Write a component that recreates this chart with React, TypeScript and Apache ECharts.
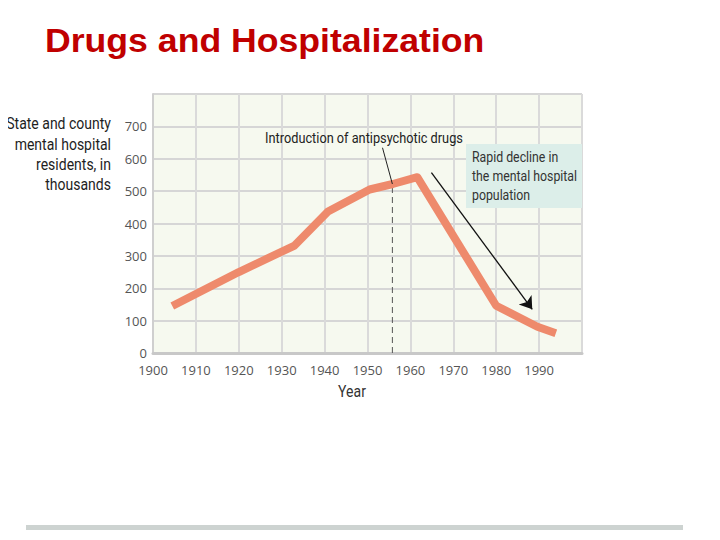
import React, { useEffect, useRef } from "react";
import * as echarts from "echarts";

const years = [1904.5, 1920, 1933, 1940.8, 1950.5, 1955.9, 1961.6, 1980, 1989.6, 1993.9];
const residents = [145, 250, 332, 437, 505, 522, 543, 146, 81, 61];

const xTicks = [1900, 1910, 1920, 1930, 1940, 1950, 1960, 1970, 1980, 1990];
const yTicks = [0, 100, 200, 300, 400, 500, 600, 700];

const drugYear = 1955.8;
const drugValue = 522;
const pointerFrom = [1953.5, 634];
const arrowFrom = [1964.9, 557];
const arrowTo = [1988.4, 135];

const titleText = "Drugs and Hospitalization";
const yLabelLines = ["State and county", "mental hospital", "residents, in", "thousands"];
const drugLabel = "Introduction of antipsychotic drugs";
const declineLines = ["Rapid decline in", "the mental hospital", "population"];

const NARROW = 'Roboto, "Noto Sans", sans-serif';
const SQUEEZE = 0.85;

function narrowText(
  text: string,
  x: number,
  y: number,
  size: number,
  align: string,
  fill: string,
  z = 11
) {
  return {
    type: "text",
    x,
    y,
    z,
    scaleX: SQUEEZE,
    style: {
      text,
      font: `${size}px ${NARROW}`,
      fill,
      textVerticalAlign: "middle",
      textAlign: align,
    },
  };
}

export default function App() {
  const ref = useRef<HTMLDivElement>(null);
  useEffect(() => {
    if (!ref.current) return;
    const chart = echarts.init(ref.current, undefined, { renderer: "svg" });
    const graphics: any[] = [
      {
        type: "text",
        x: 45,
        y: 40,
        scaleX: 1.08,
        style: {
          text: titleText,
          font: 'bold 33px "Liberation Sans", Arial, sans-serif',
          fill: "#C00000",
          textVerticalAlign: "middle",
          textAlign: "left",
        },
      },
      {
        type: "rect",
        shape: { x: 26, y: 525, width: 657, height: 5 },
        style: { fill: "#CDD3D1" },
      },
      {
        type: "rect",
        shape: { x: 466, y: 144, width: 116, height: 64 },
        style: { fill: "#DCEEE9" },
        z: 10,
      },
      ...declineLines.map((t, i) => narrowText(t, 472, 157 + i * 19, 14.5, "left", "#333")),
      ...yLabelLines.map((t, i) => narrowText(t, 111, 124 + i * 20.3, 16.5, "right", "#1e1e1e")),
      narrowText(drugLabel, 364, 138, 15, "center", "#222"),
      narrowText("Year", 352, 392, 16.5, "center", "#333"),
    ];

    chart.setOption({
      animation: false,
      backgroundColor: "#ffffff",
      grid: {
        left: 153,
        right: 138,
        top: 94,
        bottom: 187,
        show: true,
        backgroundColor: "#F6F9EF",
        borderWidth: 0,
      },
      xAxis: {
        type: "value",
        min: 1900,
        max: 2000,
        interval: 10,
        axisLine: { show: true, lineStyle: { color: "#C8C8C8", width: 3 } },
        axisTick: { show: false },
        splitLine: { show: true, lineStyle: { color: "#DADADA", width: 2 } },
        axisLabel: {
          margin: 10,
          color: "#555",
          fontSize: 13,
          lineHeight: 13,
          fontFamily: '"Open Sans", sans-serif',
          formatter: (v: number) => (xTicks.includes(v) ? String(v) : ""),
        },
      },
      yAxis: {
        type: "value",
        min: 0,
        max: 800,
        interval: 100,
        axisLine: { show: true, lineStyle: { color: "#CFCFCF", width: 2 } },
        axisTick: { show: false },
        splitLine: { show: true, lineStyle: { color: "#D6D6D6", width: 2 } },
        axisLabel: {
          margin: 6,
          color: "#555",
          fontSize: 13,
          lineHeight: 12,
          fontFamily: '"Open Sans", sans-serif',
          formatter: (v: number) => (yTicks.includes(v) ? String(v) : ""),
        },
      },
      series: [
        {
          type: "line",
          data: [
            [drugYear, 0],
            [drugYear, drugValue],
          ],
          symbol: "none",
          lineStyle: { color: "#555", width: 1, type: [6, 4] },
          z: 3,
        },
        {
          type: "line",
          data: years.map((y, i) => [y, residents[i]]),
          symbol: "none",
          lineStyle: { color: "#EE8A6C", width: 8, cap: "butt", join: "round" },
          z: 4,
        },
        {
          type: "lines",
          coordinateSystem: "cartesian2d",
          symbol: ["none", "none"],
          lineStyle: { color: "#222", width: 1, opacity: 1 },
          data: [{ coords: [pointerFrom, [drugYear, drugValue]] }],
          z: 5,
        },
        {
          type: "lines",
          coordinateSystem: "cartesian2d",
          symbol: ["none", "arrow"],
          symbolSize: 12,
          lineStyle: { color: "#111", width: 1.3, opacity: 1 },
          data: [{ coords: [arrowFrom, arrowTo] }],
          z: 5,
        },
      ],
      graphic: graphics,
    });
    return () => chart.dispose();
  }, []);
  return <div ref={ref} style={{ width: 720, height: 540, margin: -8 }} />;
}
